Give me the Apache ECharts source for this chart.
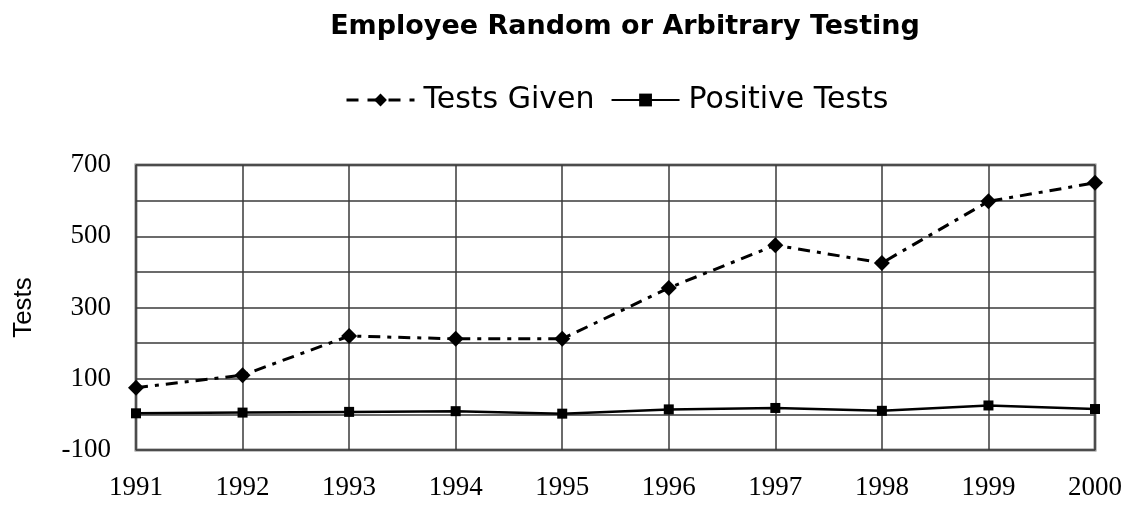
<!DOCTYPE html>
<html><head><meta charset="utf-8">
<script src="https://cdn.jsdelivr.net/npm/echarts@6/dist/echarts.min.js"></script>
<style>html,body{margin:0;padding:0;background:#fff}#c{width:1133px;height:505px}</style>
</head><body><div id="c"></div>
<script>
const years = ['1991','1992','1993','1994','1995','1996','1997','1998','1999','2000'];
const testsGiven = [75, 110, 220, 212, 212, 355, 475, 425, 598, 650];
const positiveTests = [3, 5, 7, 9, 2, 14, 18, 10, 25, 15];
const yShownLabels = [700, 500, 300, 100, -100];

const chart = echarts.init(document.getElementById('c'));
chart.setOption({
  animation: false,
  backgroundColor: '#fff',
  title: {
    text: 'Employee Random or Arbitrary Testing',
    left: 620, top: 8, textAlign: 'center',
    textStyle: {fontFamily: 'DejaVu Sans', fontWeight: 'bold', fontSize: 27, color: '#000'}
  },
  legend: {
    top: 80, left: 340,
    itemWidth: 68, itemHeight: 16, itemGap: 16,
    textStyle: {fontFamily: 'DejaVu Sans', fontSize: 30, color: '#000', padding: [0, 0, 0, 4]},
    data: [
      {name: 'Tests Given', lineStyle: {type: [12, 9], width: 3}},
      {name: 'Positive Tests'}
    ]
  },
  grid: {left: 136, right: 38, top: 165, bottom: 55, show: true, borderColor: '#858585', borderWidth: 3},
  xAxis: {
    type: 'category', data: years, boundaryGap: false,
    axisLine: {show: false}, axisTick: {show: false},
    axisLabel: {fontFamily: 'Liberation Serif, Times New Roman', fontSize: 27, color: '#000', margin: 24},
    splitLine: {show: true, lineStyle: {color: '#3a3a3a', width: 1.5}}
  },
  yAxis: {
    type: 'value', min: -100, max: 700, interval: 100,
    name: 'Tests', nameLocation: 'middle', nameGap: 99, nameRotate: 90,
    nameTextStyle: {fontFamily: 'Liberation Sans, Arial', fontSize: 26, color: '#000'},
    axisLine: {show: false}, axisTick: {show: false},
    axisLabel: {fontFamily: 'Liberation Serif, Times New Roman', fontSize: 27, color: '#000', margin: 25,
      formatter: v => yShownLabels.includes(v) ? String(v) : ''},
    splitLine: {show: true, lineStyle: {color: '#3a3a3a', width: 1.5}}
  },
  series: [
    {
      name: 'Tests Given', type: 'line', data: testsGiven,
      symbol: 'diamond', symbolSize: 16, showAllSymbol: true,
      itemStyle: {color: '#000'},
      lineStyle: {color: '#000', width: 3, type: [12, 7, 4, 7]}
    },
    {
      name: 'Positive Tests', type: 'line', data: positiveTests,
      symbol: 'rect', symbolSize: 10, showAllSymbol: true,
      itemStyle: {color: '#000'},
      lineStyle: {color: '#000', width: 2.5, type: 'solid'}
    }
  ]
});
</script></body></html>
